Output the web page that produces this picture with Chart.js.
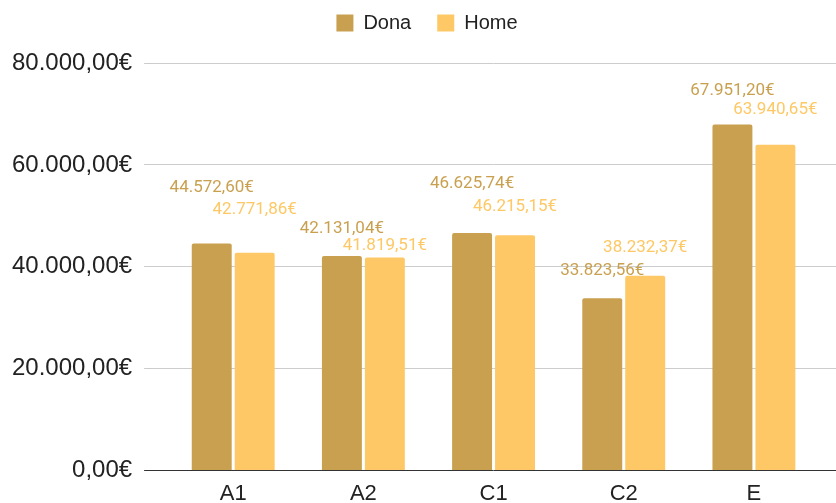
<!DOCTYPE html>
<html>
<head>
<meta charset="utf-8">
<script src="https://cdn.jsdelivr.net/npm/chart.js@4/dist/chart.umd.min.js"></script>
<style>
  html, body { margin: 0; padding: 0; background: #fff; }
  #wrap { width: 836px; height: 503px; }
</style>
</head>
<body>
<div id="wrap"><canvas id="chart"></canvas></div>
<script>
const categories = ["A1", "A2", "C1", "C2", "E"];
const donaValues = [44572.60, 42131.04, 46625.74, 33823.56, 67951.20];
const homeValues = [42771.86, 41819.51, 46215.15, 38232.37, 63940.65];
const yTicks = [0, 20000, 40000, 60000, 80000];

const donaColor = "#c9a050";
const homeColor = "#fdc865";
const axisFont = "'Liberation Sans', Arial, sans-serif";

// vertical lift of each value label above its bar (the reference staggers them)
const labelLift = [
  [56, 27, 49, 28, 34],
  [43, 12, 28, 28, 35],
];

function euro(value) {
  const [whole, cents] = Math.abs(value).toFixed(2).split(".");
  const grouped = whole.replace(/\B(?=(\d{3})+(?!\d))/g, ".");
  return (value < 0 ? "-" : "") + grouped + "," + cents + "€";
}

const valueLabels = {
  id: "valueLabels",
  afterDatasetsDraw(chart) {
    const { ctx } = chart;
    ctx.save();
    ctx.font = "17px Roboto";
    ctx.textAlign = "center";
    ctx.textBaseline = "middle";
    chart.data.datasets.forEach((dataset, di) => {
      const meta = chart.getDatasetMeta(di);
      ctx.fillStyle = dataset.backgroundColor;
      meta.data.forEach((bar, i) => {
        ctx.fillText(euro(dataset.data[i]), bar.x, bar.y - labelLift[di][i]);
      });
    });
    ctx.restore();
  },
};

// extra room between the legend and the plot, and nudge the legend right a bit
const legendGap = {
  id: "legendGap",
  beforeInit(chart) {
    const fit = chart.legend.fit;
    chart.legend.fit = function () {
      fit.call(this);
      this.height += 20;
    };
  },
  afterLayout(chart) {
    chart.legend.left += 9;
    chart.legend.right += 9;
  },
};

new Chart(document.getElementById("chart"), {
  type: "bar",
  data: {
    labels: categories,
    datasets: [
      {
        label: "Dona",
        data: donaValues,
        backgroundColor: donaColor,
        borderRadius: { topLeft: 2, topRight: 2 },
        borderSkipped: "bottom",
        categoryPercentage: 0.66,
        barPercentage: 0.93,
      },
      {
        label: "Home",
        data: homeValues,
        backgroundColor: homeColor,
        borderRadius: { topLeft: 2, topRight: 2 },
        borderSkipped: "bottom",
        categoryPercentage: 0.66,
        barPercentage: 0.93,
      },
    ],
  },
  options: {
    responsive: true,
    maintainAspectRatio: false,
    animation: false,
    layout: {
      padding: { left: 0, right: 0, top: -13, bottom: -14 },
    },
    plugins: {
      legend: {
        position: "top",
        labels: {
          boxWidth: 17,
          boxHeight: 17,
          padding: 26,
          color: "#222",
          font: { family: axisFont, size: 20 },
        },
      },
      tooltip: { enabled: false },
    },
    scales: {
      x: {
        grid: { display: false, drawTicks: false },
        border: { display: false },
        ticks: {
          color: "#222",
          padding: 10,
          font: { family: axisFont, size: 22 },
        },
      },
      y: {
        min: 0,
        max: 80000,
        afterBuildTicks(axis) {
          axis.ticks = yTicks.map((value) => ({ value }));
        },
        border: { display: false },
        grid: {
          color: (c) => (c.tick && c.tick.value === 0 ? "#333" : "#cccccc"),
          lineWidth: 1,
          tickLength: 24,
        },
        ticks: {
          color: "#222",
          padding: 12,
          font: { family: axisFont, size: 24 },
          callback: (value) => euro(value),
        },
      },
      yRight: {
        position: "right",
        min: 0,
        max: 80000,
        afterBuildTicks(axis) {
          axis.ticks = yTicks.map((value) => ({ value }));
        },
        border: { display: false },
        grid: {
          drawOnChartArea: false,
          color: (c) => (c.tick && c.tick.value === 0 ? "#333" : "#cccccc"),
          tickLength: 17,
        },
        ticks: { display: false },
      },
    },
  },
  plugins: [valueLabels, legendGap],
});
</script>
</body>
</html>
